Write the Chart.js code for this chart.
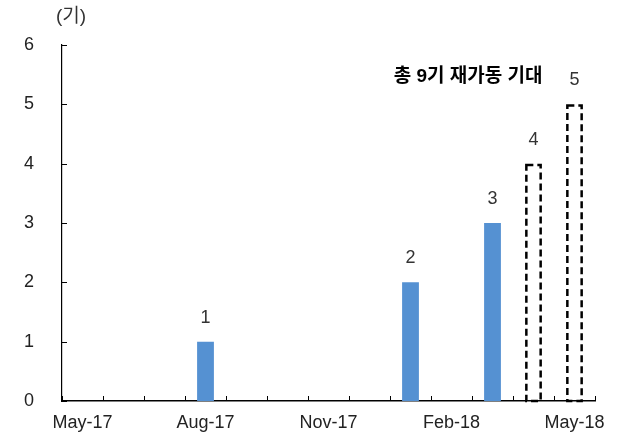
<!DOCTYPE html>
<html>
<head>
<meta charset="utf-8">
<script src="https://cdn.jsdelivr.net/npm/chart.js@4.4.1/dist/chart.umd.min.js"></script>
<style>
  html, body { margin: 0; padding: 0; background: #fff; }
  #wrap { width: 626px; height: 434px; }
</style>
</head>
<body>
<div id="wrap"><canvas id="myChart"></canvas></div>
<script>
// monthly categories, only every third month gets a label
const months = ['May-17', 'Jun-17', 'Jul-17', 'Aug-17', 'Sep-17', 'Oct-17', 'Nov-17',
                'Dec-17', 'Jan-18', 'Feb-18', 'Mar-18', 'Apr-18', 'May-18'];
// reactors restarted (cumulative), actual
const restarted = [null, null, null, 1, null, null, null, null, 2, null, 3, null, null];
// expected restarts (dashed boxes)
const expected = [null, null, null, null, null, null, null, null, null, null, null, 4, 5];
const yTicks = [0, 1, 2, 3, 4, 5, 6];
const unitLabel = '(기)';
const noteText = '총 9기 재가동 기대';

const FONT = "'Liberation Sans', 'Noto Sans CJK KR', sans-serif";
Chart.defaults.font.family = FONT;
Chart.defaults.color = '#222';

// dashed outlines, inward ticks, value labels and notes
const extras = {
    id: 'extras',
    afterDatasetsDraw(chart) {
        const ctx = chart.ctx;
        const x = chart.scales.x;
        const y = chart.scales.y;
        const area = chart.chartArea;

        // dashed boxes for expected bars
        const metaExp = chart.getDatasetMeta(1);
        ctx.save();
        ctx.strokeStyle = '#000';
        ctx.lineWidth = 2.5;
        ctx.setLineDash([7, 4]);
        metaExp.data.forEach((el, i) => {
            if (expected[i] == null) return;
            const w = el.width;
            const lw = ctx.lineWidth / 2;
            ctx.strokeRect(el.x - w / 2 + lw, el.y + lw, w - 2 * lw, el.base - el.y - lw);
        });
        ctx.restore();

        // inward tick marks
        ctx.save();
        ctx.strokeStyle = '#000';
        ctx.lineWidth = 1;
        yTicks.forEach(v => {
            const py = Math.round(y.getPixelForValue(v)) + 0.5;
            ctx.beginPath();
            ctx.moveTo(area.left, py);
            ctx.lineTo(area.left + 5, py);
            ctx.stroke();
        });
        const step = x.getPixelForValue(1) - x.getPixelForValue(0);
        for (let i = 0; i <= months.length; i++) {
            const px = Math.round(x.getPixelForValue(0) - step / 2 + i * step) + 0.5;
            ctx.beginPath();
            ctx.moveTo(px, area.bottom);
            ctx.lineTo(px, area.bottom - 5);
            ctx.stroke();
        }
        ctx.restore();

        // value labels above bars
        ctx.save();
        ctx.fillStyle = '#333';
        ctx.font = '18px ' + FONT;
        ctx.textAlign = 'center';
        ctx.textBaseline = 'middle';
        [restarted, expected].forEach((series, d) => {
            chart.getDatasetMeta(d).data.forEach((el, i) => {
                if (series[i] == null) return;
                ctx.fillText(String(series[i]), el.x, el.y - 24);
            });
        });
        ctx.restore();

        // notes
        ctx.save();
        ctx.fillStyle = '#000';
        ctx.textAlign = 'center';
        ctx.textBaseline = 'middle';
        ctx.font = 'bold 19px ' + FONT;
        ctx.fillText(noteText, area.left + 0.762 * (area.right - area.left), y.getPixelForValue(5.47));
        ctx.fillStyle = '#333';
        ctx.font = '19px ' + FONT;
        ctx.fillText(unitLabel, area.left + 9, area.top - 28);
        ctx.restore();
    }
};

const ctx = document.getElementById('myChart');

new Chart(ctx, {
    type: 'bar',
    data: {
        labels: months,
        datasets: [{
            data: restarted,
            backgroundColor: '#5591d2',
            borderWidth: 0,
            barPercentage: 0.41,
            categoryPercentage: 1
        }, {
            data: expected,
            backgroundColor: 'rgba(0,0,0,0)',
            borderWidth: 0,
            barPercentage: 0.41,
            categoryPercentage: 1
        }]
    },
    options: {
        responsive: true,
        maintainAspectRatio: false,
        animation: false,
        layout: {
            padding: { left: 0, right: 31, top: 45, bottom: 0 }
        },
        plugins: {
            legend: { display: false },
            tooltip: { enabled: false }
        },
        scales: {
            x: {
                stacked: true,
                grid: { display: false },
                border: { display: true, color: '#000', width: 1.5 },
                ticks: {
                    autoSkip: false,
                    maxRotation: 0,
                    padding: 3,
                    color: '#222',
                    font: { size: 18 },
                    callback: (val, i) => (i % 3 === 0 ? months[i] : '')
                },
                afterFit: s => { s.height = 33; }
            },
            y: {
                stacked: true,
                min: 0,
                max: 6,
                grid: { display: false },
                border: { display: true, color: '#000', width: 1.2 },
                ticks: {
                    stepSize: 1,
                    padding: 20,
                    color: '#222',
                    font: { size: 18 }
                },
                afterFit: s => { s.width = 62; }
            }
        }
    },
    plugins: [extras]
});
</script>
</body>
</html>
